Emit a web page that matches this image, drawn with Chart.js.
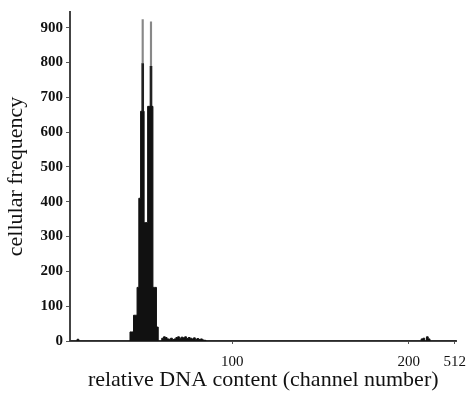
<!DOCTYPE html>
<html lang="en">
<head>
	<meta charset="UTF-8">
	<title>DNA histogram</title>
	<script src="https://cdn.jsdelivr.net/npm/chart.js@4/dist/chart.umd.min.js"></script>
	<style>
		html,body{margin:0;padding:0;background:#fff;}
		.box{width:475px;height:393px;position:relative;}
	</style>
</head>
<body>
	<div class="box">
		<canvas id="myChart"></canvas>
	</div>
</body>
<script>
	// histogram: channel -> cell count (value holds until next channel)
	var channels = [8, 12, 13, 42, 43, 44, 45, 46, 47, 48, 49, 50, 51, 52, 53, 54, 55, 56, 57, 58,
		60, 61, 62, 63, 64, 65, 66, 67, 68, 69, 70, 71, 72, 73, 74, 75, 76, 77, 78, 79, 80, 81, 82, 83, 84, 85,
		207, 208, 209, 210, 211, 212, 227];
	var counts = [0, 5, 0, 26, 26, 74, 74, 154, 410, 660, 660, 340, 340, 674, 674, 674, 154, 154, 40, 0,
		8, 12, 10, 6, 5, 8, 4, 6, 10, 12, 8, 11, 9, 12, 7, 10, 8, 6, 9, 5, 7, 4, 6, 3, 2, 0,
		6, 8, 0, 12, 6, 0, 0];
	// the two thin spikes on top of the G1 peak
	var spikeX = [49.2, 53.9];
	var spikeDark = [[660, 797], [674, 789]];
	var spikeLight = [[797, 923], [789, 917]];
	// x tick labels (last one is the off-scale channel 512)
	var xTickValues = [100, 200, 226];
	var xTickLabels = ["100", "200", "512"];
	var yTicks = [0, 100, 200, 300, 400, 500, 600, 700, 800, 900];

	var hist = channels.map(function(c, i){ return {x: c, y: counts[i]}; });
	var dark = spikeX.map(function(c, i){ return {x: c, y: spikeDark[i]}; });
	var light = spikeX.map(function(c, i){ return {x: c, y: spikeLight[i]}; });

	var serif = "'Liberation Serif', 'Times New Roman', serif";
	Chart.defaults.font.family = serif;
	Chart.defaults.color = "#111";

	var ctx = document.getElementById("myChart");
	var myChart = new Chart(ctx, {
		type: "line",
		data: {
			datasets: [{
				type: "line",
				data: hist,
				stepped: true,
				fill: "origin",
				backgroundColor: "#111",
				borderColor: "#111",
				borderWidth: 1,
				pointRadius: 0
			}, {
				type: "bar",
				data: dark,
				backgroundColor: "#222",
				barThickness: 2,
				grouped: false
			}, {
				type: "bar",
				data: light,
				backgroundColor: "#888",
				barThickness: 1.5,
				grouped: false
			}]
		},
		options: {
			responsive: true,
			maintainAspectRatio: false,
			animation: false,
			layout: {padding: {top: 10, right: 17, left: 0, bottom: 0}},
			plugins: {legend: {display: false}, tooltip: {enabled: false}},
			scales: {
				x: {
					type: "linear",
					offset: false,
					min: 8,
					max: 227,
					grid: {drawOnChartArea: false, offset: false, tickLength: 3, color: "#555"},
					border: {color: "#444", width: 2},
					afterBuildTicks: function(scale){
						scale.ticks = xTickValues.map(function(v){ return {value: v}; });
					},
					afterFit: function(scale){ scale.height = 52; },
					ticks: {
						autoSkip: false,
						maxRotation: 0,
						padding: 9,
						font: {size: 15},
						callback: function(v){
							return xTickLabels[xTickValues.indexOf(v)];
						}
					},
					title: {
						display: true,
						text: "relative DNA content (channel number)",
						font: {size: 22},
						padding: {top: 0, bottom: 0}
					}
				},
				y: {
					min: 0,
					max: 945,
					grid: {drawOnChartArea: false, tickLength: 4, color: "#555"},
					border: {color: "#444", width: 2},
					afterBuildTicks: function(scale){
						scale.ticks = yTicks.map(function(v){ return {value: v}; });
					},
					afterFit: function(scale){ scale.width = 70; },
					ticks: {
						padding: 3,
						font: {size: 15, weight: "bold"}
					},
					title: {
						display: true,
						text: "cellular frequency",
						font: {size: 22},
						padding: {top: 3, bottom: 0}
					}
				}
			}
		}
	});
</script>
</html>
